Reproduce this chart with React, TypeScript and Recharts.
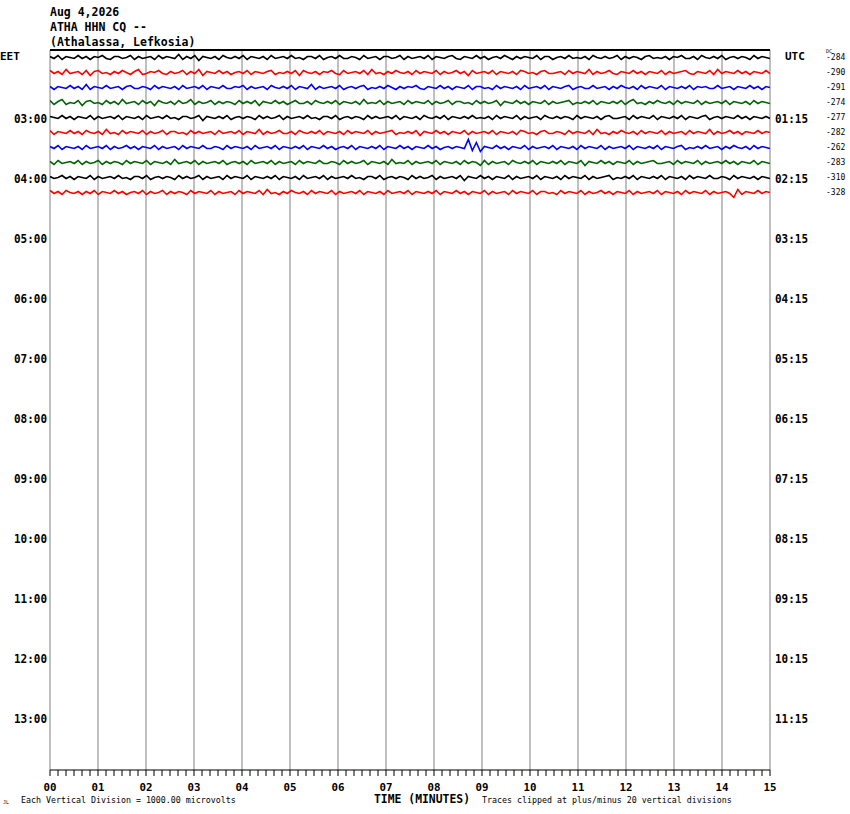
import { LineChart, Line, XAxis, YAxis, ReferenceLine } from 'recharts';

// header / axis text
const titleLines = ['Aug 4,2026', 'ATHA HHN CQ --', '(Athalassa, Lefkosia)'];
const localHours = ['EET', '03:00', '04:00', '05:00', '06:00', '07:00', '08:00', '09:00', '10:00', '11:00', '12:00', '13:00'];
const utcHours = ['UTC', '01:15', '02:15', '03:15', '04:15', '05:15', '06:15', '07:15', '08:15', '09:15', '10:15', '11:15'];
const dcOffsets = ['-284', '-290', '-291', '-274', '-277', '-282', '-262', '-283', '-310', '-328'];
const minuteLabels = ['00', '01', '02', '03', '04', '05', '06', '07', '08', '09', '10', '11', '12', '13', '14', '15'];
const traceColors = ['#000000', '#ff0000', '#0000ff', '#006400'];

// trace amplitudes (screen counts), one sample every 5 s, 15 minutes per line
const trace0 = [
  1, -1, 2, -2, 1, 0, -1, 2, -1, 1,
  -2, 1, 0, 2, -1, -2, 1, 1, -1, 0,
  2, -2, 1, -1, 0, 1, -2, 2, -1, 1,
  0, -1, 3, -2, 1, -1, 2, -3, 1, 0,
  -1, 1, -2, 2, 0, -1, 1, -1, 2, -2,
  1, 0, -1, 1, -2, 2, -1, 0, 1, -1,
  2, -1, 0, -2, 1, 1, -1, 2, -2, 0,
  1, -1, 2, -1, -1, 1, 0, -2, 2, -1,
  0, 1, -2, 1, 1, -1, 0, 2, -2, 1,
  -1, 0, 1, -1, 2, -2, 1, 0, -1, 1,
  2, -1, -2, 1, 0, -1, 2, -1, 1, -2,
  0, 1, -1, 2, 0, -2, 1, -1, 1, 0,
  -1, 2, -2, 1, 1, -2, 0, 1, -1, 2,
  -1, 0, -1, 1, -2, 2, 0, -1, 1, -1,
  0, 2, -2, 1, -1, 1, 0, -2, 1, 2,
  -1, 0, -1, 1, -2, 1, 0, 2, -1, -1,
  1, -2, 2, 0, -1, 1, -1, 2, -2, 0,
  1, -1, 1, 0, -2, 2, -1, 1, 0, -1,
];
const trace1 = [
  2, -1, 1, -2, 3, -1, 0, 1, -2, 2,
  -3, 1, 2, -1, 0, -2, 1, -1, 2, 0,
  -2, 1, 3, -2, -1, 1, 0, 2, -1, -2,
  1, -1, 0, 2, -2, 1, -1, 3, -3, 1,
  0, -1, 2, -1, 1, -2, 0, 1, -1, 2,
  -2, 1, 0, -1, 1, 2, -2, 0, -1, 1,
  -1, 2, -3, 2, 0, -1, 1, -2, 1, 0,
  2, -1, -2, 2, -1, 0, 1, -1, 2, -2,
  3, -1, 0, -2, 1, -1, 2, 0, -1, 1,
  -2, 2, -1, 1, 0, -1, 2, -2, 1, -1,
  0, 2, -1, 1, -3, 2, -1, 0, 1, -1,
  2, -2, 1, 0, -1, 1, -2, 2, 1, -1,
  0, -2, 1, 2, -1, -1, 0, 1, -2, 2,
  -1, 1, 0, -1, 3, -2, 1, -1, 0, 2,
  -1, -2, 1, 0, -1, 2, -1, 1, -2, 1,
  0, -1, 2, -2, 1, -1, 0, 1, 2, -1,
  -2, 1, 0, -1, 2, -2, 3, -1, 1, 0,
  -1, 2, -1, 1, -2, 1, 0, -1, 2, -1,
];
const trace2 = [
  1, -2, 1, 0, -1, 2, -1, 1, -2, 3,
  -2, 1, 0, -1, 2, -1, 0, 1, -2, 1,
  2, -1, -1, 1, 0, -2, 2, -1, 1, 0,
  -1, 1, -2, 2, -1, 0, 1, -1, 2, -2,
  1, 0, -1, 2, -1, -1, 1, 0, 2, -2,
  1, -1, 0, 1, -2, 2, 0, -1, 1, -1,
  2, -2, 1, 0, -1, 3, -2, 1, -1, 0,
  1, -1, 2, -2, 0, 1, -1, 1, 2, -2,
  0, -1, 1, -1, 2, 0, -2, 1, -1, 1,
  0, 2, -1, -2, 1, 0, -1, 2, -1, 1,
  -2, 1, 0, -1, 2, -2, 1, 1, -1, 0,
  -2, 2, -1, 1, 0, -1, 1, -2, 2, -1,
  0, 1, -1, 2, -2, 1, 0, -1, 1, 2,
  -2, 0, 1, -1, -1, 2, -1, 0, 1, -2,
  1, -1, 2, 0, -1, 1, -2, 2, -1, 1,
  0, -1, 2, -2, 1, 0, -1, 1, -1, 2,
  -2, 1, 0, 1, -1, -1, 2, -1, 0, 1,
  -2, 1, 0, -1, 2, -1, 1, -2, 1, 0,
];
const trace3 = [
  2, -2, 1, 3, -2, 0, -1, 2, -3, 1,
  2, -1, 0, -2, 2, -1, 1, -2, 3, -1,
  0, 1, -2, 2, -1, 1, -3, 2, 0, -1,
  1, -2, 2, -1, 0, 3, -2, 1, -1, 0,
  2, -2, 1, -1, 1, 0, -2, 2, -1, 1,
  -1, 2, -3, 1, 0, -1, 2, -1, 1, -2,
  0, 2, -1, -1, 1, -2, 2, 0, -1, 1,
  -1, 2, -2, 1, 0, -1, 1, -2, 3, -1,
  0, -1, 2, -2, 1, -1, 0, 1, -2, 2,
  -1, 1, 0, -1, 2, -2, 1, -1, 0, 2,
  -2, 1, 1, -1, 0, -2, 2, -1, 1, -1,
  0, 2, -3, 1, 0, -1, 2, -1, 1, -2,
  1, 0, -1, 2, -2, 1, -1, 0, 1, 2,
  -2, 0, -1, 1, -1, 2, -2, 1, 0, -1,
  1, -1, 2, -2, 1, 3, -1, 0, -2, 1,
  -1, 2, 0, -1, 1, -2, 2, -1, 1, 0,
  -1, 2, -2, 1, -1, 0, 1, -1, 2, -2,
  1, 0, -1, 1, -2, 2, -1, 1, 0, -1,
];
const trace4 = [
  1, 0, -1, 2, -1, 1, -2, 1, 0, -1,
  2, -2, 1, -1, 0, 1, -1, 2, -2, 1,
  0, -1, 1, -2, 2, -1, 0, 1, -1, 2,
  -1, 0, -2, 1, 1, -1, 0, 2, -3, 1,
  0, -1, 1, -1, 2, -2, 0, 1, -1, 1,
  0, -2, 2, -1, 1, -1, 0, 2, -2, 1,
  -1, 0, 1, -1, 2, -1, 0, -2, 1, 1,
  -1, 2, -2, 0, 1, -1, 1, 0, -2, 2,
  -1, 1, -1, 0, 1, -1, 2, -2, 1, 0,
  -1, 1, -2, 2, 0, -1, 1, -1, 2, -2,
  1, 0, -1, 1, -1, 2, -1, 0, -1, 1,
  -2, 2, -1, 1, 0, -1, 2, -2, 1, -1,
  0, 1, -2, 2, 0, -1, 1, -1, 1, 0,
  -2, 2, -1, 1, 0, -1, 1, -2, 1, 2,
  -1, -1, 0, 1, -2, 2, -1, 1, 0, -1,
  2, -2, 1, 0, -1, 1, -1, 2, -2, 1,
  0, -1, 1, 2, -2, 0, 1, -1, 1, 0,
  -1, 2, -1, 1, -2, 1, 0, -1, 1, -1,
];
const trace5 = [
  2, -2, 1, 0, -1, 2, -1, 1, -2, 2,
  0, -1, 1, -2, 3, -1, 0, -2, 2, -1,
  1, 0, -1, 2, -2, 1, -1, 0, 2, -2,
  1, 1, -1, 0, -2, 2, -1, 1, -1, 0,
  1, -2, 2, -1, 0, 1, -1, 2, -2, 1,
  0, -1, 3, -2, 1, -1, 0, 2, -1, -1,
  1, -2, 2, 0, -1, 1, -1, 2, -2, 1,
  0, -1, 1, -2, 2, -1, 1, 0, -1, 2,
  -2, 1, -1, 0, 1, 2, -2, 0, -1, 1,
  -1, 2, -3, 1, 0, -1, 2, -1, 1, -2,
  1, 0, -1, 2, -2, 1, -1, 0, 1, -1,
  2, -2, 1, 0, -1, 1, -2, 2, 1, -1,
  0, -2, 1, 2, -1, -1, 1, 0, -2, 2,
  -1, 1, 0, -1, 2, -2, 3, -1, 0, -2,
  1, -1, 2, 0, -1, 1, -2, 2, -1, 1,
  0, -1, 2, -2, 1, -1, 0, 1, -2, 2,
  -1, 1, 0, -1, 3, -2, 1, -1, 0, 2,
  -1, 1, -2, 1, 0, -1, 2, -1, 1, 0,
];
const trace6 = [
  1, -1, 2, -2, 1, 0, -1, 1, -2, 2,
  -1, 0, 1, -1, 2, -2, 1, -1, 0, 2,
  -1, 1, -2, 1, 0, -1, 2, -2, 1, -1,
  0, 1, -2, 2, -1, 1, 0, -1, 2, -1,
  -1, 1, 0, -2, 2, -1, 1, 0, -1, 1,
  -2, 2, -1, 0, 1, -1, 2, -2, 1, 0,
  -1, 1, -1, 2, -2, 1, 0, -1, 2, -1,
  1, -2, 0, 1, -1, 2, -2, 1, 0, -1,
  1, -1, 2, -2, 1, 0, -1, 2, -1, 1,
  -2, 1, 0, -1, 2, -1, 1, -2, 0, 1,
  -1, 1, 0, -1, 8, -3, 5, -4, 1, 0,
  -1, 2, -1, 1, -2, 1, 0, -1, 2, -2,
  1, -1, 0, 1, -1, 2, -2, 1, 0, -1,
  1, -2, 2, -1, 1, 0, -1, 2, -2, 1,
  -1, 0, 1, -1, 2, -2, 1, 0, -1, 1,
  -1, 2, -2, 1, 0, -1, 1, 2, -2, 0,
  -1, 1, -1, 2, -1, 0, 1, -2, 1, -1,
  2, 0, -1, 1, -2, 2, -1, 1, 0, -1,
];
const trace7 = [
  1, -2, 2, -1, 0, 1, -1, 2, -2, 1,
  -1, 0, 2, -2, 1, -1, 1, 0, -2, 2,
  -1, 1, 0, -1, 2, -2, 1, 0, -1, 1,
  -2, 3, -1, 0, 1, -1, 2, -2, 1, -1,
  0, 1, -1, 2, -2, 0, 1, -1, 1, -2,
  2, -1, 0, 1, -1, 2, -2, 1, -1, 0,
  1, -2, 2, -1, 1, 0, -1, 2, -1, -1,
  1, 0, -2, 2, -1, 1, -1, 0, 2, -2,
  1, 0, -1, 1, -2, 3, -1, 0, -1, 2,
  -2, 1, -1, 0, 1, -1, 2, -2, 1, 0,
  -1, 1, -2, 2, -1, 1, 0, -3, 2, -2,
  1, -1, 0, 1, -2, 2, 0, -1, 1, -1,
  2, -2, 1, 0, -1, 1, -1, 2, -2, 1,
  0, -1, 2, -3, 1, 0, -1, 2, -1, 1,
  -2, 1, 0, -1, 2, -2, 1, -1, 0, 1,
  2, -1, -1, 0, 1, -2, 2, -1, 1, 0,
  -1, 2, -2, 1, -1, 0, 1, -1, 2, -1,
  1, -2, 1, 0, -1, 2, -2, 1, 0, -1,
];
const trace8 = [
  1, -1, 0, 2, -1, 1, -2, 1, 0, -1,
  2, -2, 1, -1, 0, 1, -1, 2, -1, 0,
  -2, 1, 1, -1, 2, -2, 0, 1, -1, 1,
  0, -2, 2, -1, 1, -1, 0, 2, -2, 1,
  -1, 0, 1, -2, 2, -1, 1, 0, -1, 2,
  -2, 1, 0, -1, 1, -1, 2, -2, 1, 0,
  -1, 1, -2, 2, -1, 0, 1, -1, 2, -2,
  1, -1, 0, 1, -1, 2, -1, 0, -2, 1,
  1, -1, 2, -2, 0, 1, -1, 1, 0, -2,
  2, -1, 1, -1, 0, 2, -2, 1, -1, 0,
  1, -1, 2, -3, 1, 0, -1, 2, -1, 1,
  -2, 1, 0, -1, 2, -2, 1, -1, 0, 1,
  -1, 2, -2, 1, 0, -1, 1, -2, 2, -1,
  1, 0, -1, 2, -2, 1, -1, 0, 1, 2,
  -2, 0, -1, 1, -1, 2, -2, 1, 0, -1,
  1, -1, 2, -2, 1, 0, -1, 1, -2, 2,
  -1, 1, 0, -1, 2, -1, -1, 1, 0, -2,
  2, -1, 1, 0, -1, 1, -2, 1, 0, -1,
];
const trace9 = [
  2, -1, 1, -2, 2, 0, -1, 1, -2, 1,
  -1, 2, -2, 1, 0, -1, 2, -1, 1, -2,
  0, 1, -1, 2, -2, 1, -1, 0, 2, -2,
  1, -1, 1, 0, -2, 2, -1, 1, 0, -1,
  2, -2, 1, -1, 0, 1, -2, 2, -1, 1,
  0, -1, 2, -2, 3, -1, 0, -2, 1, -1,
  2, 0, -1, 1, -2, 2, -1, 1, 0, -1,
  2, -2, 1, -1, 0, 1, -1, 2, -2, 1,
  0, -1, 1, -2, 2, -1, 0, 1, -1, 2,
  -2, 1, 0, -1, 1, -1, 2, -2, 1, 0,
  -1, 2, -1, 1, -2, 1, 0, -1, 2, -2,
  1, -1, 0, 1, -2, 2, -1, 1, 0, -1,
  2, -2, 1, 1, -1, 0, -2, 2, -1, 1,
  0, -1, 2, -2, 1, -1, 0, 2, -1, 1,
  -2, 1, 0, -1, 2, -2, 1, -1, 0, 1,
  -1, 2, -2, 1, 0, -1, 1, -2, 2, -1,
  1, 0, -1, 2, -2, 1, -1, 0, 1, -1,
  -5, 3, -2, 1, 0, -1, 2, -1, 1, 0,
];
const traces = [trace0, trace1, trace2, trace3, trace4, trace5, trace6, trace7, trace8, trace9];

const ROWS = 48;
const MINUTES = 15;
const COUNTS_PER_ROW = 15;
const MONO = "'DejaVu Sans Mono', monospace";

const traceData = traces.map((vals, row) =>
  vals.map((v, i) => ({ t: (i * MINUTES) / (vals.length - 1), y: row + 0.5 - v / COUNTS_PER_ROW }))
);

const leftTicks = localHours.map((_, k) => k * 4 + 0.5);
const rightRows = Array.from(new Set([...dcOffsets.map((_, r) => r), ...utcHours.map((_, k) => k * 4)])).sort((a, b) => a - b);
const rightTicks = rightRows.map((r) => r + 0.5);
const minuteTicks = Array.from({ length: MINUTES * 6 + 1 }, (_, i) => i / 6);
const minuteLines = minuteLabels.map((_, m) => m);

function LeftTick({ x, y, payload }: any) {
  const row = Math.round(payload.value - 0.5);
  const label = localHours[row / 4];
  if (row === 0) {
    return (
      <text x={x - 48} y={y + 2.5} fontFamily={MONO} fontWeight="bold" fontSize={11} fill="#000">
        {label}
      </text>
    );
  }
  return (
    <text x={x - 34} y={y + 5} fontFamily={MONO} fontWeight="bold" fontSize={12.5} fill="#000" textLength={33} lengthAdjust="spacingAndGlyphs">
      {label}
    </text>
  );
}

function RightTick({ x, y, payload }: any) {
  const row = Math.round(payload.value - 0.5);
  return (
    <g>
      {row === 0 && (
        <text x={x + 10} y={y + 2.5} fontFamily={MONO} fontWeight="bold" fontSize={11} fill="#000">
          {utcHours[0]}
        </text>
      )}
      {row > 0 && row % 4 === 0 && (
        <text x={x} y={y + 5.5} fontFamily={MONO} fontWeight="bold" fontSize={12.5} fill="#000" textLength={33} lengthAdjust="spacingAndGlyphs">
          {utcHours[row / 4]}
        </text>
      )}
      {row < dcOffsets.length && (
        <text x={x + 51} y={y + 2.5} fontFamily={MONO} fontSize={8} fill="#000">
          {dcOffsets[row]}
        </text>
      )}
      {row === 0 && (
        <text x={x + 51} y={y - 4.5} fontFamily={MONO} fontSize={5} fill="#000">
          DC
        </text>
      )}
    </g>
  );
}

function MinuteTick({ x, y, payload }: any) {
  const step = Math.round(payload.value * 6);
  if (step % 6 !== 0) return <g />;
  return (
    <text x={x} y={y + 14.5} textAnchor="middle" fontFamily={MONO} fontWeight="bold" fontSize={11} fill="#000" textLength={13} lengthAdjust="spacingAndGlyphs">
      {minuteLabels[step / 6]}
    </text>
  );
}

export default function App() {
  return (
    <div style={{ position: 'absolute', left: 0, top: 0, width: 850, height: 814, background: '#fff' }}>
      <LineChart width={850} height={814} margin={{ top: 50, right: 0, bottom: 0, left: 0 }}>
        <XAxis
          dataKey="t"
          type="number"
          domain={[0, MINUTES]}
          ticks={minuteTicks}
          interval={0}
          height={44}
          tickSize={6}
          tickMargin={0}
          axisLine={{ stroke: '#000', strokeWidth: 1 }}
          tickLine={{ stroke: '#000', strokeWidth: 1 }}
          tick={<MinuteTick />}
          allowDataOverflow
        />
        <YAxis
          yAxisId="left"
          type="number"
          domain={[0, ROWS]}
          reversed
          ticks={leftTicks}
          interval={0}
          width={50}
          tickSize={0}
          tickMargin={2}
          axisLine={false}
          tickLine={false}
          tick={<LeftTick />}
          allowDataOverflow
        />
        <YAxis
          yAxisId="right"
          orientation="right"
          type="number"
          domain={[0, ROWS]}
          reversed
          ticks={rightTicks}
          interval={0}
          width={80}
          tickSize={0}
          tickMargin={5}
          axisLine={false}
          tickLine={false}
          tick={<RightTick />}
          allowDataOverflow
        />
        {minuteLines.map((m) => (
          <ReferenceLine key={`g${m}`} yAxisId="left" x={m} stroke="#808080" strokeWidth={1} />
        ))}
        <ReferenceLine yAxisId="left" y={0} stroke="#000" strokeWidth={2} />
        {traceData.map((d, row) => (
          <Line
            key={`trace${row}`}
            yAxisId="left"
            data={d}
            dataKey="y"
            type="linear"
            stroke={traceColors[row % traceColors.length]}
            strokeWidth={1.6}
            dot={false}
            activeDot={false}
            isAnimationActive={false}
          />
        ))}
      </LineChart>
      <svg width={850} height={814} style={{ position: 'absolute', left: 0, top: 0, pointerEvents: 'none' }}>
        {titleLines.map((line, i) => (
          <text key={line} x={50} y={16 + i * 15} fontFamily={MONO} fontWeight="bold" fontSize={11.5} fill="#000">
            {line}
          </text>
        ))}
        <text x={374} y={803} fontFamily={MONO} fontWeight="bold" fontSize={11.5} fill="#000" textLength={96} lengthAdjust="spacingAndGlyphs">
          TIME (MINUTES)
        </text>
        <text x={21} y={803} fontFamily={MONO} fontSize={8.3} fill="#000">
          Each Vertical Division = 1000.00 microvolts
        </text>
        <text x={482} y={803} fontFamily={MONO} fontSize={8.3} fill="#000">
          Traces clipped at plus/minus 20 vertical divisions
        </text>
        <text x={3} y={804} fontFamily={MONO} fontSize={5} fill="#000">
          JL
        </text>
      </svg>
    </div>
  );
}
